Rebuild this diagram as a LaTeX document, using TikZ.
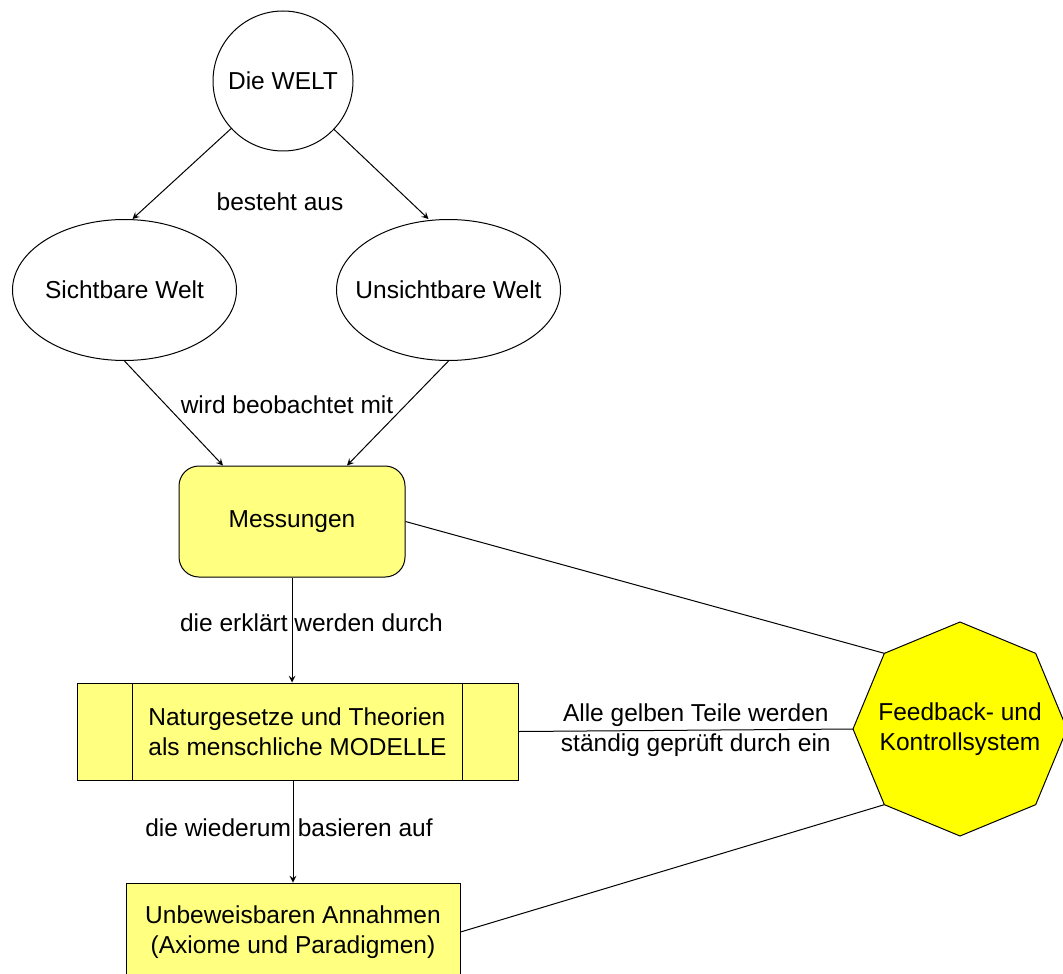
\documentclass[tikz,border=0pt]{standalone}
\usepackage{fontspec}
\setmainfont{Liberation Sans}
\usepackage{xcolor}
\usepackage{tikz}
\usetikzlibrary{positioning,shapes.geometric}
\definecolor{boxyellow}{HTML}{FFFF80}
\definecolor{octyellow}{HTML}{FFFF00}

\begin{document}
\begin{tikzpicture}[
  x=0.5pt, y=-0.5pt,
  every node/.style={font=\fontsize{12.25}{15}\selectfont, text=black},
  worldcircle/.style={circle, draw, line width=0.5pt, minimum size=70pt, inner sep=0pt},
  worldellipse/.style={ellipse, draw, line width=0.5pt, minimum width=112pt,
                       minimum height=70.5pt, inner sep=0pt},
  measbox/.style={rectangle, rounded corners=10pt, draw, fill=boxyellow, line width=0.5pt,
                  minimum width=113pt, minimum height=55.5pt},
  modelbox/.style={rectangle, draw, fill=boxyellow, line width=0.5pt, minimum width=220.5pt,
                   minimum height=48.5pt, align=left},
  axiombox/.style={rectangle, draw, fill=boxyellow, line width=0.5pt, minimum width=167pt,
                   minimum height=49pt, align=center},
  octbox/.style={regular polygon, regular polygon sides=8, shape border rotate=22.5, draw,
                 fill=octyellow, line width=0.5pt, minimum size=107pt, inner sep=0pt,
                 outer sep=0pt},
  lbl/.style={inner sep=0pt, align=center},
  arrow/.style={->, >=stealth, line width=0.5pt, color=black},
  link/.style={line width=0.5pt, color=black}
]
\useasboundingbox (0,0) rectangle (1063,973);

\node[worldcircle] (welt) at (283,81) {Die WELT};
\node[worldellipse] (sicht) at (124.5,290) {\makebox[0pt]{Sichtbare Welt}};
\node[worldellipse, right=49.5pt of sicht] (unsicht) {\makebox[0pt]{Unsichtbare Welt}};
\node[measbox] (mess) at (292,521.5) {Messungen};
\node[modelbox, below=52.5pt of mess, xshift=2.75pt] (modell) {Naturgesetze und Theorien\\als menschliche MODELLE};
\node[axiombox, below=51pt of modell, xshift=-2.25pt] (axiom) {Unbeweisbaren Annahmen\\(Axiome und Paradigmen)};
\node[octbox] (feedback) at (960,729) {\makebox[0pt]{\begin{tabular}{@{}c@{}}Feedback- und\\Kontrollsystem\end{tabular}}};

\node[lbl] (besteht) at (280,202) {besteht aus};
\node[lbl] (beobachtet) at (287,405) {wird beobachtet mit};
\node[lbl] (erklaert) at (311.5,623) {die erklärt werden durch};
\node[lbl] (basieren) at (289,828) {die wiederum basieren auf};

% side bars of the model box
\draw[link] ([xshift=28pt]modell.north west) -- ([xshift=28pt]modell.south west);
\draw[link] ([xshift=-28pt]modell.north east) -- ([xshift=-28pt]modell.south east);

\draw[arrow] (welt) -- ([xshift=4pt]sicht.north);
\draw[arrow] (welt) -- ([xshift=-10pt]unsicht.north);
\draw[arrow] (sicht.south) -- ([xshift=-34.5pt]mess.north);
\draw[arrow] (unsicht.south) -- ([xshift=27.5pt]mess.north);
\draw[arrow] (mess.south) -- (mess.south |- modell.north);
\draw[arrow] (axiom.north |- modell.south) -- (axiom.north);

\draw[link] (mess.east) -- (feedback.135);
\draw[link] (modell.east) -- node[lbl, pos=0.53] (pruefung) {Alle gelben Teile werden\\ständig geprüft durch ein} (feedback.180);
\draw[link] (axiom.east) -- (feedback.225);

\end{tikzpicture}
\end{document}
